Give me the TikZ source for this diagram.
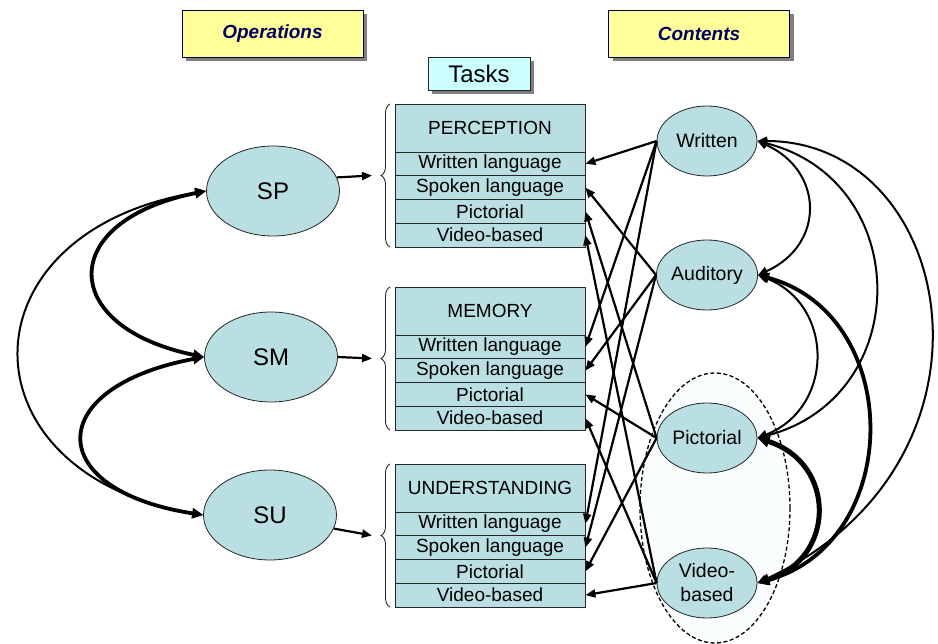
\documentclass[tikz,border=0pt]{standalone}
\usepackage{fontspec}
\setmainfont{Liberation Sans}
\usetikzlibrary{arrows.meta, shapes.geometric, decorations.pathreplacing, shadows}

\definecolor{cellblue}{HTML}{BADFE2}
\definecolor{hdryellow}{HTML}{FFFF99}
\definecolor{navy}{HTML}{000066}
\definecolor{taskcyan}{HTML}{CCFFFF}
\definecolor{grpfill}{HTML}{FAFDFD}

\begin{document}
\begin{tikzpicture}[x=1pt, y=-1pt,
  font=\fontsize{19}{24}\selectfont,
  shd/.style={general shadow={fill=black!50, shadow xshift=4pt, shadow yshift=-4pt}},
  hdr/.style={rectangle, draw=navy!70!black, line width=0.8pt, fill=hdryellow,
    minimum width=181pt, minimum height=47pt, inner sep=0pt,
    font=\fontsize{19}{22}\selectfont\bfseries\itshape, text=navy, shd},
  taskhead/.style={rectangle, draw=black!85, line width=0.8pt, fill=taskcyan,
    minimum width=102pt, minimum height=33pt, inner sep=0pt,
    font=\fontsize{24}{28}\selectfont, shd},
  cell/.style={rectangle, draw=black!85, line width=0.8pt, fill=cellblue,
    minimum width=190pt, minimum height=23.75pt, inner sep=0pt},
  cellhead/.style={cell, minimum height=48pt},
  op/.style={ellipse, draw=black!85, line width=0.8pt, fill=cellblue,
    minimum width=133pt, minimum height=90pt, inner sep=0pt,
    font=\fontsize{24}{28}\selectfont},
  ct/.style={ellipse, draw=black!85, line width=0.8pt, fill=cellblue,
    minimum width=100pt, minimum height=70pt, inner sep=0pt, align=center,
    font=\fontsize{19.5}{24}\selectfont},
  grp/.style={ellipse, draw=black, dash pattern=on 4pt off 2.5pt, line width=1.3pt, fill=grpfill,
    minimum width=150pt, minimum height=270pt, inner sep=0pt},
  link/.style={-{Triangle[length=10pt, width=8pt]}, line width=2.2pt},
  arcA/.style={{Triangle[length=8pt 0.8, width=7pt 0.8]}-{Triangle[length=8pt 0.8, width=7pt 0.8]}, line width=2pt},
  arcB/.style={arcA, line width=3.8pt},
  arcC/.style={arcA, line width=5pt},
  brc/.style={decorate, decoration={brace, amplitude=9pt}, line width=0.9pt, draw=black!85}
]
\useasboundingbox (0,0) rectangle (938,644);

% dashed grouping ellipse (background)
\node[grp] (G) at (715,508) {};

% header boxes
\node[hdr] (ops) at (272.5,33.5) {Operations};
\node[hdr] (cts) at (699,33.5) {Contents};
\node[taskhead] (tasks) at (479,73.5) {Tasks};

% task blocks
\foreach \p/\t/\ti in {P/104/PERCEPTION, M/287/MEMORY, U/464/UNDERSTANDING}{
  \node[cellhead] (\p0) at (490,\t+24) {\ti};
  \foreach \i/\lab in {1/Written language, 2/Spoken language, 3/Pictorial, 4/Video-based}{
    \node[cell] (\p\i) at (490,\t+48+23.75*\i-11.875) {\lab};
  }
  \draw[brc] (390,\t+143) -- (390,\t);
  \coordinate (\p b) at (372,\t+71.5);
}

% operations
\node[op] (SP) at (273,191) {SP};
\node[op] (SM) at (271,357) {SM};
\node[op] (SU) at (270,515) {SU};

% contents
\node[ct] (W) at (707,141) {Written};
\node[ct] (A) at (707,275) {Auditory};
\node[ct] (Pi) at (707,438) {Pictorial};
\node[ct] (V) at (707,583) {Video-\\based};

% operations -> tasks
\draw[link] (SP.12) -- (Pb);
\draw[link] (SM.east) -- (Mb);
\draw[link] (SU.-12) -- (Ub);

% contents -> task rows
\foreach \c/\i in {W/1, A/2, Pi/3, V/4}{
  \foreach \b in {P,M,U}{
    \draw[link] (\c.west) -- (\b\i.east);
  }
}

% left arcs
\draw[arcB] (SP.west) .. controls +(-150,30) and +(-146,-30) .. (SM.west);
\draw[arcB] (SM.west) .. controls +(-161,30) and +(-161,-25) .. (SU.west);
\draw[arcA] (SP.west) .. controls +(-248,40) and +(-245,-40) .. (SU.west);

% right arcs
\draw[arcA] (W.east) .. controls +(67,30) and +(67,-30) .. (A.east);
\draw[arcA] (W.east) .. controls +(157,40) and +(157,-40) .. (Pi.east);
\draw[arcA] (W.east) .. controls +(200,0) and +(260,-120) .. (V.east);
\draw[arcA] (A.east) .. controls +(77,30) and +(77,-30) .. (Pi.east);
\draw[arcB] (A.east) .. controls +(147,40) and +(147,-40) .. (V.east);
\draw[arcC] (Pi.east) .. controls +(79,25) and +(79,-25) .. (V.east);
\end{tikzpicture}
\end{document}
